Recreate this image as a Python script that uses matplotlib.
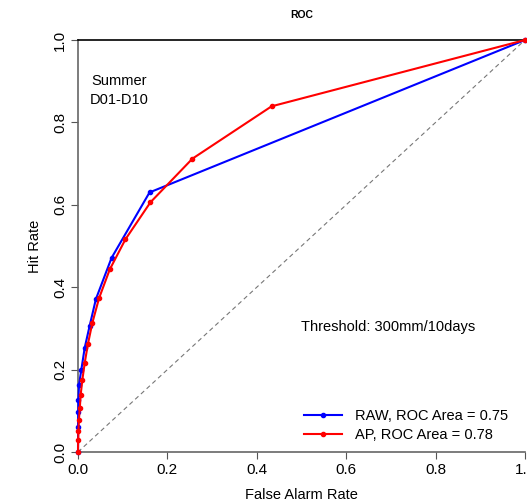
#!/usr/bin/env python3

import numpy as np
import matplotlib
matplotlib.use("Agg")
import matplotlib.pyplot as plt

plt.rcParams['font.family'] = ['Liberation Sans', 'DejaVu Sans']

# ROC points (false alarm rate, hit rate)
raw_far = [0.0, 0.0002, 0.0005, 0.001, 0.0022, 0.0075, 0.015, 0.026, 0.040, 0.075, 0.160, 1.0]
raw_hr = [0.0, 0.060, 0.098, 0.127, 0.163, 0.200, 0.253, 0.306, 0.371, 0.471, 0.630, 1.0]
ap_far = [0.0, 0.0005, 0.001, 0.002, 0.004, 0.006, 0.0097, 0.015, 0.022, 0.032, 0.047, 0.071, 0.106, 0.162, 0.256, 0.433, 1.0]
ap_hr = [0.0, 0.030, 0.050, 0.078, 0.106, 0.139, 0.175, 0.216, 0.261, 0.313, 0.373, 0.443, 0.516, 0.606, 0.712, 0.839, 1.0]
raw_area = 0.75
ap_area = 0.78
ticks = [0.0, 0.2, 0.4, 0.6, 0.8, 1.0]


def main():
    fig = plt.figure(figsize=(5.27, 5.04), dpi=100)
    ax = fig.add_axes([78 / 527, 52 / 504, 447 / 527, 412 / 504])

    ax.plot([0, 1], [0, 1], color='#777777', lw=0.8, ls=(0, (4, 3)))
    ax.plot(raw_far, raw_hr, color='#0000ff', lw=1.5, marker='o', ms=3,
            label='RAW, ROC Area = %.2f' % raw_area, clip_on=False, zorder=3)
    ax.plot(ap_far, ap_hr, color='#ff0000', lw=1.5, marker='o', ms=3,
            label='AP, ROC Area = %.2f' % ap_area, clip_on=False, zorder=4)

    ax.set_xlim(0, 1)
    ax.set_ylim(0, 1)
    ax.set_xticks(ticks)
    ax.set_yticks(ticks)
    ax.set_xticklabels(['%.1f' % t for t in ticks], fontsize=11)
    ax.set_yticklabels(['%.1f' % t for t in ticks], fontsize=11, rotation=90, va='center')
    ax.tick_params(direction='out', length=5, color='#555555', pad=3)

    ax.spines['right'].set_visible(False)
    ax.spines['left'].set_color('#666666')
    ax.spines['bottom'].set_color('#666666')
    ax.spines['top'].set_color('black')
    for s in ['left', 'bottom', 'top']:
        ax.spines[s].set_linewidth(1.2)

    ax.set_xlabel('False Alarm Rate', fontsize=10.5, labelpad=8)
    ax.set_ylabel('Hit Rate', fontsize=10.5, labelpad=8)
    ax.set_title('ROC', fontsize=7.5, fontweight='bold', pad=16)

    ax.text(0.093, 0.877, 'Summer\nD01-D10', transform=ax.transAxes,
            ha='center', va='center', fontsize=10.5, linespacing=1.5)
    ax.text(0.498, 0.303, 'Threshold: 300mm/10days', transform=ax.transAxes,
            ha='left', va='center', fontsize=10.5)

    ax.legend(loc='lower right', bbox_to_anchor=(0.985, 0.0), frameon=False,
              fontsize=10.5, handlelength=2.6, handletextpad=0.9,
              labelspacing=0.35, borderaxespad=0.3)

    fig.savefig('out.png', dpi=100)


if __name__ == "__main__":
    main()
